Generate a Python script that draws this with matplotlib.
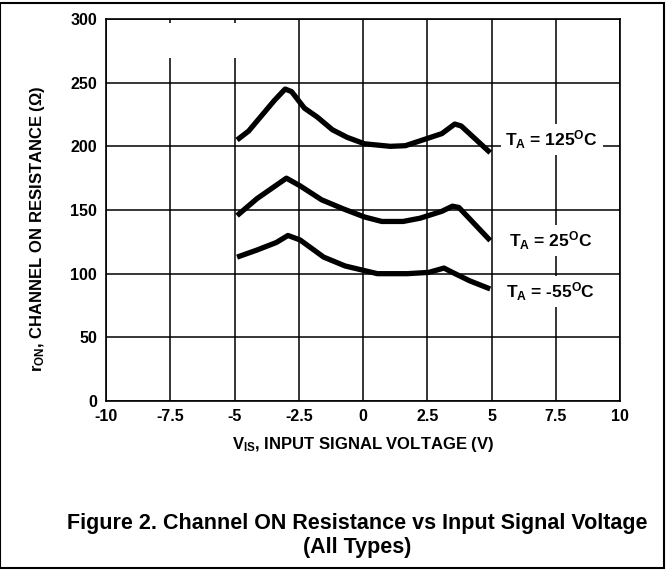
import numpy as np
import matplotlib.pyplot as plt
from matplotlib.patches import Rectangle

plt.rcParams['font.family'] = ['Liberation Sans', 'DejaVu Sans']
plt.rcParams['font.weight'] = 'bold'
plt.rcParams['axes.labelweight'] = 'bold'
plt.rcParams['mathtext.fontset'] = 'custom'
plt.rcParams['mathtext.rm'] = 'Liberation Sans:bold'
plt.rcParams['mathtext.it'] = 'Liberation Sans:bold'
plt.rcParams['mathtext.bf'] = 'Liberation Sans:bold'

# curves
v_125 = [-4.9, -4.45, -3.45, -3.03, -2.78, -2.28, -1.78, -1.19, -0.61, 0.06, 1.06, 1.65, 3.07, 3.57, 3.82, 4.95]
r_125 = [205, 212, 236, 245, 243, 230, 223, 213, 207, 202, 200, 200.5, 210, 217.5, 216, 195]

v_25 = [-4.9, -4.12, -2.98, -2.45, -1.61, -0.78, 0.06, 0.73, 1.56, 2.23, 3.07, 3.48, 3.73, 4.95]
r_25 = [145.6, 159, 175, 169, 158, 151, 144.5, 141, 141, 143.6, 149, 153, 152, 126]

v_m55 = [-4.9, -4.12, -3.37, -2.92, -2.45, -1.53, -0.69, 0.06, 0.56, 1.73, 2.56, 3.15, 3.48, 4.15, 4.95]
r_m55 = [113, 118.6, 124.5, 130, 126.5, 113, 106, 102.4, 100, 100, 101, 104.4, 101, 94.4, 88]

x_ticks = [-10, -7.5, -5, -2.5, 0, 2.5, 5, 7.5, 10]
x_labels = ['-10', '-7.5', '-5', '-2.5', '0', '2.5', '5', '7.5', '10']
y_ticks = [0, 50, 100, 150, 200, 250, 300]

labels = [r'T$_\mathrm{A}$ = 125$^\mathrm{O}$C', r'T$_\mathrm{A}$ = 25$^\mathrm{O}$C', r'T$_\mathrm{A}$ = -55$^\mathrm{O}$C']
label_pos = [(7.35, 205), (7.3, 126), (7.3, 86)]

fig = plt.figure(figsize=(6.69, 5.71), dpi=100)
ax = fig.add_axes([106 / 669, 1 - 401 / 571, 514 / 669, 382 / 571])

ax.set_xlim(-10, 10)
ax.set_ylim(0, 300)
ax.set_xticks(x_ticks)
ax.set_xticklabels(x_labels)
ax.set_yticks(y_ticks)
ax.tick_params(length=0, labelsize=11.5)
ax.tick_params(axis='y', pad=6.5)
ax.tick_params(axis='x', pad=6)
ax.grid(True, color='black', linewidth=1.1)
ax.set_axisbelow(True)
for s in ax.spines.values():
    s.set_linewidth(1.2)

# white patch that breaks the -7.5 and -5 gridlines near the top
ax.add_patch(Rectangle((-8.5, 269), 4.0, 27.5, facecolor='white', edgecolor='none', zorder=1))

for v, r in [(v_125, r_125), (v_25, r_25), (v_m55, r_m55)]:
    ax.plot(v, r, color='black', linewidth=3.8, solid_joinstyle='round', solid_capstyle='butt', zorder=3)

for txt, (x, y) in zip(labels, label_pos):
    ax.text(x, y, txt, ha='center', va='center', fontsize=12.5, zorder=4,
            bbox=dict(facecolor='white', edgecolor='none', pad=3))

ax.set_xlabel(r'V$_\mathrm{IS}$, INPUT SIGNAL VOLTAGE (V)', fontsize=12, labelpad=8)
ax.set_ylabel(r'r$_\mathrm{ON}$, CHANNEL ON RESISTANCE ($\Omega$)', fontsize=12)
ax.yaxis.set_label_coords(-0.115, 0.45)

fig.text(0.534, 1 - 523 / 571, 'Figure 2. Channel ON Resistance vs Input Signal Voltage',
         ha='center', va='center', fontsize=15.5)
fig.text(0.534, 1 - 547 / 571, '(All Types)', ha='center', va='center', fontsize=15.5)

fig.patches.append(Rectangle((0, 3 / 571), 664 / 669, 565 / 571, transform=fig.transFigure,
                             fill=False, edgecolor='black', linewidth=1.5))

fig.savefig('out.png', dpi=100)
